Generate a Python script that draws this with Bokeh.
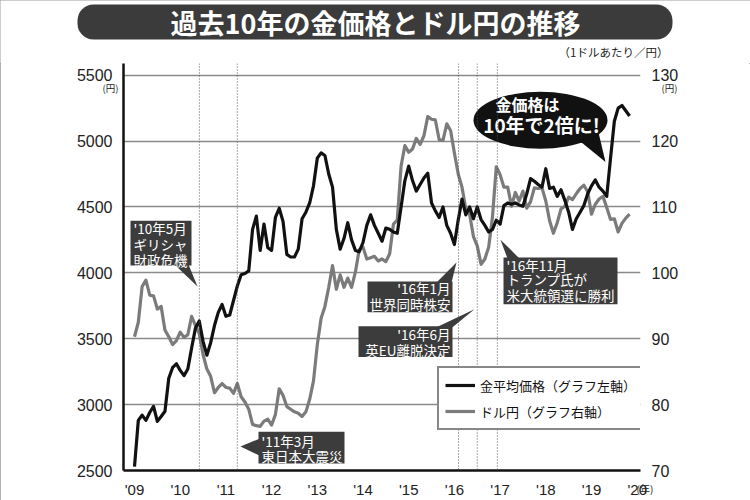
import numpy as np
from bokeh.plotting import figure
from bokeh.layouts import column
from bokeh.models import (Range1d, LinearAxis, FixedTicker, Span, Label,
                          BoxAnnotation, Legend, LegendItem)
from bokeh.core.properties import value
from bokeh.embed import file_html
from bokeh.resources import INLINE

# ---------------- data (monthly, Jan 2009 - Nov 2019) ----------------
start_year = 2009
gold_yen = [
    2530, 2880, 2920, 2880, 2940, 2986, 2873, 2910, 2950, 3200, 3280, 3310,   # 2009
    3260, 3220, 3270, 3430, 3580, 3635, 3480, 3375, 3470, 3600, 3700, 3760,   # 2010
    3670, 3680, 3790, 3900, 3985, 3995, 4015, 4330, 4430, 4170, 4370, 4190,   # 2011
    4170, 4420, 4490, 4390, 4140, 4120, 4120, 4180, 4410, 4460, 4530, 4660,   # 2012
    4870, 4910, 4890, 4750, 4650, 4330, 4180, 4260, 4380, 4250, 4170, 4160,   # 2013
    4230, 4360, 4440, 4360, 4300, 4240, 4340, 4330, 4310, 4300, 4500, 4700,   # 2014
    4810, 4700, 4620, 4670, 4720, 4756, 4530, 4470, 4420, 4500, 4360, 4300,   # 2015
    4215, 4400, 4560, 4440, 4500, 4410, 4500, 4404, 4360, 4310, 4330, 4400,   # 2016
    4370, 4510, 4530, 4520, 4530, 4515, 4505, 4600, 4715, 4695, 4670, 4650,   # 2017
    4790, 4640, 4650, 4580, 4630, 4550, 4460, 4330, 4410, 4460, 4510, 4600,   # 2018
    4660, 4705, 4650, 4620, 4580, 4870, 5150, 5250, 5270, 5230, 5190,         # 2019
]
usd_jpy = [
    90.3, 92.5, 97.9, 98.9, 96.6, 96.5, 94.5, 94.9, 91.3, 90.3, 89.1, 89.7,
    91.0, 90.2, 90.6, 93.4, 92.0, 90.8, 87.6, 85.4, 84.3, 81.8, 82.6, 83.2,
    82.6, 82.5, 81.7, 83.2, 81.2, 80.4, 79.3, 77.0, 76.8, 76.7, 77.5, 77.8,
    76.9, 78.5, 82.4, 81.4, 79.7, 79.3, 78.9, 78.7, 78.2, 78.9, 80.8, 83.6,
    89.1, 93.1, 94.9, 97.8, 101.1, 97.5, 99.7, 97.8, 99.2, 97.8, 100.1, 103.5,
    103.9, 102.1, 102.3, 102.5, 101.8, 102.1, 101.7, 102.9, 107.4, 108.0, 116.2, 119.3,
    118.3, 118.8, 120.4, 119.5, 120.8, 123.7, 123.3, 123.2, 120.2, 120.1, 122.6, 121.6,
    118.2, 115.0, 113.0, 109.7, 108.9, 105.5, 104.1, 101.3, 102.1, 103.9, 108.5, 116.1,
    114.9, 113.0, 113.0, 110.1, 112.2, 110.9, 112.4, 109.8, 110.8, 112.9, 112.8, 112.9,
    110.9, 107.9, 106.0, 107.6, 109.7, 110.1, 111.5, 111.1, 112.0, 112.8, 113.3, 112.3,
    108.9, 110.4, 111.2, 111.6, 109.9, 108.1, 108.2, 106.2, 107.5, 108.3, 108.9,
]
months = start_year + np.arange(len(gold_yen)) / 12.0

year_ticks = list(range(2009, 2021))
year_labels = ["'09", "'10", "'11", "'12", "'13", "'14", "'15", "'16", "'17", "'18", "'19", "'20"]
gold_ticks = [2500, 3000, 3500, 4000, 4500, 5000, 5500]
fx_ticks = [70, 80, 90, 100, 110, 120, 130]
event_dates = [2010.42, 2011.25, 2016.09, 2016.50, 2016.94]

TITLE = "過去10年の金価格とドル円の推移"
SUBTITLE = "（1ドルあたり／円）"
UNIT_Y = "(円)"
UNIT_X = "\u200c\u3000(年)"

# ---------------- pixel helpers for annotation placement ----------------
def X(px):
    return 2009 + (px - 134) / 45.7

def Y(py):
    return 2500 + (472 - py) * (3000 / (472 - 74.7))

JP = "Noto Sans CJK JP"
NUM = "Liberation Sans"
BOX = "#3c3c3c"
TXT = "#222222"

# ---------------- header (title strip, 750 x 63) ----------------
h = figure(width=750, height=63, output_backend="svg", toolbar_location=None,
           x_range=Range1d(0, 750), y_range=Range1d(63, 0),
           x_axis_location=None, y_axis_location=None,
           min_border=0, min_border_left=0, min_border_right=0, min_border_top=0, min_border_bottom=0)
h.frame_align = False
h.grid.visible = False
h.outline_line_color = None
h.background_fill_color = "white"
h.border_fill_color = "white"
h.add_layout(BoxAnnotation(left=77, right=672, top=4, bottom=39, fill_color="#3b3b3b",
                           fill_alpha=1, line_color=None, border_radius=16))
h.add_layout(Label(x=375, y=22, text=TITLE, text_align="center", text_baseline="middle",
                   text_color="white", text_font=JP, text_font_size="27px", text_font_style="bold"))
h.add_layout(Label(x=668, y=51, text=SUBTITLE, text_align="right", text_baseline="middle",
                   text_color=TXT, text_font=JP, text_font_size="11.5px"))

# ---------------- main chart ----------------
p = figure(width=750, height=437, output_backend="svg", toolbar_location=None,
           x_range=Range1d(X(123), X(640)), y_range=Range1d(2500, Y(63)),
           min_border_left=123, min_border_right=110, min_border_top=0, min_border_bottom=28)
p.frame_align = False
p.extra_y_ranges = {"fx": Range1d(70, 70 + (Y(63) - 2500) / 50.0)}
p.outline_line_color = None
p.background_fill_color = "white"
p.border_fill_color = "white"

p.xgrid.visible = False
p.ygrid.ticker = FixedTicker(ticks=gold_ticks[1:])
p.ygrid.grid_line_color = "#8a8a8a"
p.ygrid.grid_line_width = 1.3

def style_axis(a, size, line=True, standoff=5, font=NUM):
    a.axis_line_width = 2.5
    a.axis_line_color = "#111111" if line else None
    a.major_tick_line_color = None
    a.minor_tick_line_color = None
    a.major_label_text_font = font
    a.major_label_text_font_size = size
    a.major_label_text_color = TXT
    a.major_label_standoff = standoff

ax = p.xaxis[0]
ax.ticker = FixedTicker(ticks=year_ticks)
ax.major_label_overrides = {t: l for t, l in zip(year_ticks, year_labels)}
style_axis(ax, "15px", standoff=4)

ly = p.yaxis[0]
ly.ticker = FixedTicker(ticks=gold_ticks)
style_axis(ly, "16px")

ry = LinearAxis(y_range_name="fx", ticker=FixedTicker(ticks=fx_ticks))
style_axis(ry, "16px", line=False)
p.add_layout(ry, "right")

# unit captions carried by label-only axes
unit_left = LinearAxis(ticker=FixedTicker(ticks=[Y(88)]), major_label_overrides={Y(88): UNIT_Y})
style_axis(unit_left, "9.5px", line=False, standoff=-51, font=JP)
p.add_layout(unit_left, "left")
fx_unit = 70 + (Y(88) - 2500) / 50.0
unit_right = LinearAxis(y_range_name="fx", ticker=FixedTicker(ticks=[fx_unit]),
                        major_label_overrides={fx_unit: UNIT_Y})
style_axis(unit_right, "9.5px", line=False, standoff=-26, font=JP)
p.add_layout(unit_right, "right")
x_unit = X(639.5)
unit_bottom = LinearAxis(ticker=FixedTicker(ticks=[x_unit]), major_label_overrides={x_unit: UNIT_X})
style_axis(unit_bottom, "10px", line=False, standoff=-20, font=JP)
unit_bottom.major_tick_out = 0
unit_bottom.major_tick_in = 0
unit_bottom.major_label_text_align = "left"
p.add_layout(unit_bottom, "below")

for d in event_dates:
    p.add_layout(Span(location=d, dimension="height", line_color="#555555",
                      line_width=1, line_dash="1 2"))

r_fx = p.line(months, usd_jpy, y_range_name="fx", line_color="#7b7b7b", line_width=3.2,
              line_join="round")
r_gold = p.line(months, gold_yen, line_color="#111111", line_width=3.2, line_join="round")

# callout boxes
box_l = [X(130), X(258), X(367), X(358), X(503)]
box_r = [X(191), X(344), X(452), X(452), X(617)]
box_t = [Y(221), Y(433), Y(282), Y(327), Y(258)]
box_b = [Y(266), Y(465), Y(313), Y(358), Y(305)]
p.quad(left=box_l, right=box_r, top=box_t, bottom=box_b, fill_color=BOX, line_color=None)
ptr_x = [[X(174), X(188), X(197)], [X(259), X(259), X(240)], [X(436), X(451), X(456)],
         [X(436), X(452), X(474)], [X(507), X(519), X(500)]]
ptr_y = [[Y(265), Y(265), Y(287)], [Y(440), Y(457), Y(448)], [Y(283), Y(283), Y(263)],
         [Y(328), Y(328), Y(310)], [Y(259), Y(259), Y(240)]]
p.patches(xs=ptr_x, ys=ptr_y, fill_color=BOX, line_color=None)

left_lines = ["'10年5月", "ギリシャ", "財政危機", "'11年3月", "東日本大震災",
              "'16年11月", "トランプ氏が", "米大統領選に勝利"]
left_x = [X(133)] * 3 + [X(261)] * 2 + [X(506)] * 3
left_y = [Y(228), Y(244), Y(260), Y(442), Y(457), Y(265), Y(280), Y(296)]
p.text(x=left_x, y=left_y, text=left_lines, text_font=value(JP), text_font_size=value("13.5px"),
       text_color="white", text_align="left", text_baseline="middle")
right_lines = ["'16年1月", "世界同時株安", "'16年6月", "英EU離脱決定"]
p.text(x=[X(450)] * 4, y=[Y(289), Y(305), Y(335), Y(351)], text=right_lines,
       text_font=value(JP), text_font_size=value("13.5px"), text_color="white",
       text_align="right", text_baseline="middle")

# speech bubble
p.patch(x=[X(578), X(597), X(605)], y=[Y(140), Y(128), Y(162)], fill_color="#111111", line_color=None)
p.ellipse(x=X(540), y=Y(120), width=134, height=57, width_units="screen", height_units="screen",
          fill_color="#111111", line_color=None)
p.text(x=[X(527)], y=[Y(104)], text=["金価格は"], text_font=value(JP), text_font_size=value("16px"),
       text_font_style="bold", text_color="white", text_align="center", text_baseline="middle")
p.text(x=[X(541)], y=[Y(124)], text=["10年で2倍に!"], text_font=value(JP), text_font_size=value("19px"),
       text_font_style="bold", text_color="white", text_align="center", text_baseline="middle")

legend = Legend(items=[LegendItem(label="金平均価格（グラフ左軸）", renderers=[r_gold]),
                       LegendItem(label="ドル円（グラフ右軸）", renderers=[r_fx])],
                location=(314, 40))
legend.border_line_color = "#111111"
legend.border_line_width = 2
legend.background_fill_color = "white"
legend.background_fill_alpha = 1
legend.label_text_font = JP
legend.label_text_font_size = "13px"
legend.label_text_color = "#111111"
legend.glyph_width = 30
legend.glyph_height = 22
legend.label_standoff = 5
legend.spacing = 4
legend.padding = 6
legend.margin = 0
p.add_layout(legend)

layout = column(h, p, spacing=0,
                styles={"outline": "1px solid #9a9a9a", "outline-offset": "-1px"})
open("out.html", "w").write(file_html(layout, INLINE))
